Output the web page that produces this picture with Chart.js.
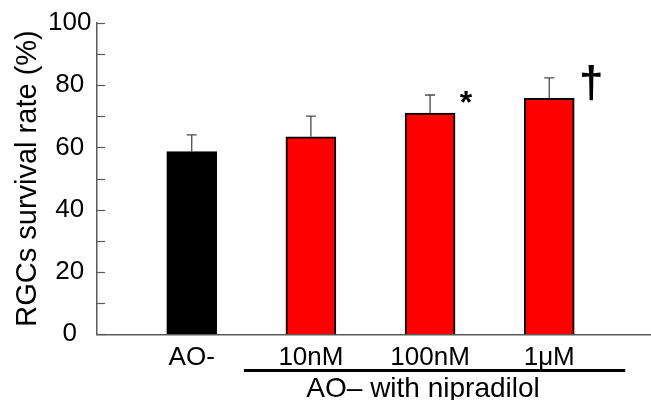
<!DOCTYPE html>
<html>
<head>
<meta charset="utf-8">
<script src="https://cdn.jsdelivr.net/npm/chart.js@4"></script>
<style>
html,body{margin:0;padding:0;background:#fff;}
#wrap{width:651px;height:400px;}
</style>
</head>
<body>
<div id="wrap"><canvas id="c" width="651" height="400"></canvas></div>
<script>
const categories = ['AO-', '10nM', '100nM', '1μM'];
const survival = [58.6, 63.4, 71.0, 75.7];
const errors = [5.4, 6.6, 5.8, 6.6];
const marks = ['', '', '*', '†'];
const barColors = ['#000000', '#ff0000', '#ff0000', '#ff0000'];
const groupLabel = 'AO– with nipradilol';
const yTitle = 'RGCs survival rate (%)';

const FONT = "'Liberation Sans', Arial, sans-serif";
const AXIS_COLOR = '#5a5a5a';

const extras = {
  id: 'extras',
  afterDatasetsDraw(chart) {
    const ctx = chart.ctx;
    const xs = chart.scales.x, ys = chart.scales.y;
    const left = chart.chartArea.left;
    ctx.save();
    // inward ticks on y axis
    ctx.strokeStyle = AXIS_COLOR;
    ctx.lineWidth = 1.2;
    for (let v = 0; v <= 100; v += 10) {
      const y = Math.round(ys.getPixelForValue(v)) + 0.5;
      ctx.beginPath();
      ctx.moveTo(left, y);
      ctx.lineTo(left + 8, y);
      ctx.stroke();
    }
    // error bars
    const meta = chart.getDatasetMeta(0);
    ctx.strokeStyle = '#4a4a4a';
    ctx.lineWidth = 1.3;
    meta.data.forEach((bar, i) => {
      const yTop = ys.getPixelForValue(survival[i] + errors[i]);
      ctx.beginPath();
      ctx.moveTo(bar.x, bar.y);
      ctx.lineTo(bar.x, yTop);
      ctx.moveTo(bar.x - 5, yTop);
      ctx.lineTo(bar.x + 5, yTop);
      ctx.stroke();
    });
    // significance marks
    ctx.fillStyle = '#000';
    ctx.textAlign = 'center';
    ctx.textBaseline = 'alphabetic';
    meta.data.forEach((bar, i) => {
      const yTop = ys.getPixelForValue(survival[i] + errors[i]);
      if (marks[i] === '*') {
        ctx.font = 'bold 32px ' + FONT;
        ctx.fillText('*', bar.x + 36, yTop + 18);
      } else if (marks[i] === '†') {
        ctx.font = 'bold 44px ' + FONT;
        ctx.fillText('†', bar.x + 42, yTop + 19);
      }
    });
    // group bracket line and label
    const x1 = xs.getPixelForValue(1) - 67;
    const x2 = xs.getPixelForValue(3) + 76;
    ctx.fillRect(x1, 369, x2 - x1, 3);
    ctx.font = '28px ' + FONT;
    ctx.fillText(groupLabel, (xs.getPixelForValue(1) + xs.getPixelForValue(3)) / 2 - 7, 397);
    ctx.restore();
  }
};

new Chart(document.getElementById('c'), {
  type: 'bar',
  data: {
    datasets: [{
      data: categories.map((c, i) => ({ x: i, y: survival[i] })),
      backgroundColor: barColors,
      borderColor: '#000',
      borderWidth: 2,
      borderSkipped: 'start',
      barThickness: 50
    }]
  },
  options: {
    responsive: false,
    animation: false,
    devicePixelRatio: 1,
    layout: { padding: { top: 22.7, right: 0, bottom: 0, left: 0 } },
    plugins: { legend: { display: false }, tooltip: { enabled: false } },
    scales: {
      x: {
        type: 'linear',
        min: -0.795,
        max: 3.854,
        offset: false,
        grid: { display: false, drawTicks: false, offset: false },
        border: { display: true, color: AXIS_COLOR, width: 1.5 },
        afterBuildTicks(scale) { scale.ticks = categories.map((c, i) => ({ value: i })); },
        afterFit(scale) { scale.height = 65.7; },
        ticks: {
          autoSkip: false,
          maxRotation: 0,
          padding: 8,
          color: '#000',
          font: { family: FONT, size: 26 },
          callback: (v) => categories[v] !== undefined ? categories[v] : ''
        }
      },
      y: {
        min: 0,
        max: 100,
        grid: { display: false, drawTicks: false },
        border: { display: true, color: AXIS_COLOR, width: 1.5 },
        afterFit(scale) { scale.width = 97; },
        ticks: {
          stepSize: 20,
          padding: 5.5,
          crossAlign: 'center',
          color: '#000',
          font: { family: FONT, size: 26 }
        },
        title: {
          display: true,
          text: yTitle,
          color: '#000',
          font: { family: FONT, size: 29 },
          padding: { top: 11, bottom: 0 }
        }
      }
    }
  },
  plugins: [extras]
});
</script>
</body>
</html>
